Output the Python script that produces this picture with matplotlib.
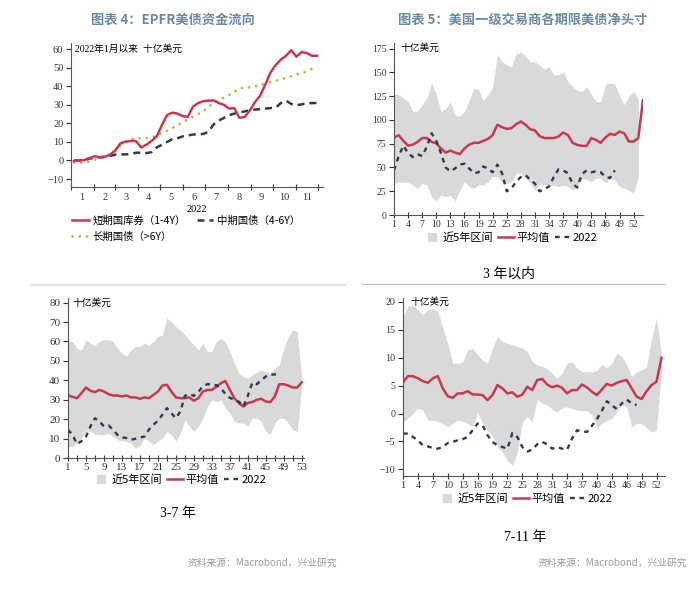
import matplotlib
matplotlib.use('Agg')
import matplotlib.pyplot as plt
import matplotlib.dates as mdates
from matplotlib.lines import Line2D
from matplotlib.ticker import FuncFormatter, NullFormatter
import numpy as np
import pandas as pd

CJK = ['Noto Sans CJK SC', 'DejaVu Sans']
plt.rcParams['font.family'] = ['Liberation Serif', 'Noto Sans CJK SC']

RED = '#C63A51'
NAVY = '#2E3A4E'
GOLD = '#CDB24E'
BAND = '#D9D9D9'
TITLE = '#6A89A2'

# ---- 图表4: EPFR weekly cumulative flows since Jan 2022 (bn USD)
epfr_start = '2022-01-05'
epfr_short = [-0.3, 0, 0.2, 1.3, 2.3, 1.7, 2.0, 3.2, 5.5, 9.3, 10.2, 10.5, 10.5, 7.0, 8.5, 10.5,
              13, 19, 24.5, 25.8, 25.3, 24, 23.5, 29, 31, 32, 32.3, 32.4, 31, 30, 28, 28.3,
              23, 23.5, 27, 31.5, 35, 41, 47.5, 51.5, 54.5, 56.5, 59.5, 56, 58.5, 58, 56.5, 56.5]
epfr_mid = [0, 0, 0.5, 1, 1.5, 1.8, 2, 2.5, 3.2, 3.3, 3.3, 3.5, 4.2, 4.2, 4, 4.5,
            7, 8.5, 10, 11.5, 12, 13, 13.5, 14, 14.2, 14.3, 15.5, 19.5, 21.5, 23, 24.5, 25.3,
            25.8, 26.5, 27.2, 27.5, 27.7, 28, 28.3, 28.5, 31, 32.3, 30.5, 29.8, 30.3, 30.8, 31, 31]
epfr_long = [-1, -1.2, -1.3, -0.5, 0.5, 1, 2, 3.5, 5, 8, 10, 11.5, 12, 12, 12, 12.5,
             13.5, 15, 16, 17.5, 19, 20.5, 22, 23.5, 25, 26.5, 29, 31, 32.5, 34, 35.5, 37,
             39, 39.3, 39.5, 40, 40.8, 41.5, 42.3, 43, 43.8, 44.5, 45.5, 46.5, 47, 48, 49.5, 50.5]

# ---- 图表5: primary dealer net positions by week (bn USD)
d3_hi = [128, 126.5, 123, 119.5, 109, 109.6, 116, 123, 139, 126.5, 109, 112, 119, 105, 104, 109,
         121, 133.5, 132, 120.5, 126.5, 135, 168.7, 161.6, 158, 156, 170, 171.5, 167, 161.6, 161,
         158, 153, 156, 147.6, 147.6, 151, 140.5, 135, 131, 130, 135, 126.5, 119.5, 119.5, 137,
         139, 138, 125, 116, 125, 130, 122]
d3_lo = [33.4, 35, 34.4, 34.4, 31.6, 28, 33.4, 31.6, 19.3, 14.8, 21, 19.3, 20.4, 15, 26, 35,
         30, 28, 31.6, 31.6, 35, 40.4, 40.4, 35, 33.4, 35, 44, 44, 38.7, 33.4, 26, 31.6, 31.6,
         30, 31.6, 30, 31.6, 30, 26, 30, 38.7, 37, 35, 38.7, 38.7, 33.4, 38.7, 37, 30, 28, 26, 23, 40]
d3_mean = [81.5, 84, 78, 73, 74, 77, 81, 81, 77, 75.5, 70, 65.7, 67.8, 65.7, 64, 70, 74, 76, 76,
           78, 80, 84, 95, 92.4, 90.6, 91.4, 95.6, 98.4, 95, 90.3, 89, 83, 81, 81, 81, 82.6, 86.8,
           84.3, 76, 73.8, 72.7, 72.7, 81, 79, 76, 81.5, 85.4, 84.3, 87.8, 86, 77.3, 77.3, 81, 121]
d3_2022 = [47, 62, 73, 65, 61, 64, 62, 72, 86, 78, 65, 50, 46, 49, 53, 54, 49, 44, 45, 51, 49, 45,
           53, 44, 25, 28, 35, 40, 42, 37, 33, 25, 27, 30, 40, 48, 47, 44, 33, 29, 43, 47, 45, 46,
           45, 40, 39, 47]

d37_hi = [60.8, 60, 56.5, 55.7, 61, 59, 58, 60, 61, 61, 60.3, 56.5, 54, 52.6, 55.7, 57.4, 57.4,
          59, 58, 60, 62.5, 63.4, 72, 70, 67.6, 66, 63.4, 60.8, 58.2, 55.7, 59, 54.8, 54.8, 60,
          61.6, 60, 54.8, 48.8, 43.7, 42, 41, 43, 44, 45.4, 44.5, 43.7, 46.2, 48, 56.5, 62.5, 66, 65, 41]
d37_lo = [6, 6, 7.7, 10.3, 14, 13.7, 12.3, 12, 12, 12.8, 11, 9.4, 8.9, 8.6, 7.7, 5.1, 6, 10.3,
          8.6, 6.8, 8.6, 10.3, 13.7, 12, 8.6, 12.8, 19.7, 16.3, 13.7, 16.3, 20.5, 26.5, 30, 29, 30,
          25.7, 23, 18.8, 18, 18, 16.3, 20.5, 20.5, 18.8, 13.7, 12, 18, 20.5, 20.5, 18, 14.5, 13.7, 37]
d37_mean = [32.2, 31.5, 30.8, 33.4, 36.3, 34.6, 33.9, 35.1, 34.2, 32.9, 32.2, 32.2, 31.7, 32.2,
            31.2, 31.2, 30.5, 31.2, 30.8, 32.5, 34.2, 37.3, 37.7, 34.2, 31.2, 30.8, 30.8, 31.2,
            29.5, 30.8, 34.2, 35.1, 35, 36.8, 38.5, 39.7, 35.1, 30.8, 28.3, 26.5, 28.3, 28.8, 30,
            30.5, 29.1, 28.8, 31.7, 38, 38, 37.3, 36.3, 36.3, 39]
d37_2022 = [14.6, 12, 7.2, 8.6, 11, 16.3, 20.5, 18.8, 16.3, 16.8, 14.6, 12, 10.6, 10.3, 9.4, 9.9,
            10.6, 11, 14.6, 17.1, 19.2, 22.3, 25.7, 23, 20.5, 24, 32, 33, 32, 34, 37, 38, 38, 37.5,
            36, 33, 31, 30, 29, 26.5, 32, 38.8, 38, 40, 42, 43, 43, 43.5]

d711_hi = [17.4, 19.2, 19.4, 18.6, 17.7, 18.6, 18.8, 18.3, 15.3, 12.6, 9, 9, 9.3, 11.4, 11.7,
           10.5, 9.6, 9, 11.7, 13.8, 12.9, 12.6, 12.3, 12, 11.7, 11.1, 9.3, 8.7, 8.5, 8, 7.2, 6.3,
           7.2, 9, 9.3, 8.1, 7.5, 7.5, 7.5, 7.8, 8.8, 8.2, 9, 10.8, 10.2, 8.7, 6.6, 7.5, 7.8, 8.4,
           13.5, 17.1, 10.5]
d711_lo = [-1.5, -0.9, 0, 0.9, 0.6, -1.2, -1.2, -1.4, -1.8, -2.4, -1.8, -1.2, -1.4, -1.8, -2.4,
           0.3, -1.8, -3, -3.9, -6, -6.9, -8.4, -9.3, -7, -1.5, -0.5, -1.5, 2.5, 1.8, 1.5, 0.8,
           0.3, 1, 1.2, 0.9, 0.6, 0.5, 0.5, -0.2, -2.6, -1.8, -1.2, -0.9, 0.3, 1.5, 1.2, -2.4,
           -1.8, -1.8, -2.5, -3.3, -3, 8]
d711_mean = [5.6, 6.7, 6.7, 6.3, 5.8, 5.5, 6.3, 6.7, 4.5, 3.1, 2.8, 3.6, 3.6, 4, 3.4, 3.4, 3.3,
             2.4, 3.3, 5.1, 4.5, 3.6, 3.8, 3, 3.4, 4.8, 4.2, 6, 6.2, 5.2, 4.7, 5, 4.6, 3.6, 4.2,
             4.2, 5.2, 4.7, 3.9, 3.3, 4.3, 5.3, 5, 5.5, 5.8, 6, 4.5, 3, 2.6, 4, 5.1, 5.7, 10]
d711_2022 = [-3.6, -3.6, -4.2, -4.8, -5.7, -5.9, -6.2, -6.3, -6, -5.3, -5.1, -4.8, -4.6, -4.2,
             -3, -1.8, -2.1, -3.9, -5.1, -5.7, -6, -6.3, -3.5, -4.2, -6.0, -6.8, -6.5, -5.5, -5.1,
             -5.5, -6.3, -6.0, -6.3, -6.5, -4.5, -3.0, -3.2, -3.3, -2.2, -1.0, 0.5, 2.2, 1.5, 0.8,
             1.8, 2.5, 1.8, 1.5]

W, H = 700, 600
fig = plt.figure(figsize=(7, 6), dpi=100)


def px_axes(l, t, r, b):
    return fig.add_axes([l / W, 1 - b / H, (r - l) / W, (b - t) / H])


def ftext(x, y, s, **kw):
    return fig.text(x / W, 1 - y / H, s, **kw)


def style(ax, size):
    for s in ['top', 'right']:
        ax.spines[s].set_visible(False)
    for s in ['left', 'bottom']:
        ax.spines[s].set_color('#555555')
        ax.spines[s].set_linewidth(0.8)
    ax.tick_params(axis='y', labelsize=size, colors='#333333', length=3.5, width=0.8, pad=2)
    ax.tick_params(axis='x', which='both', labelsize=size, colors='#333333', direction='inout',
                   length=5, width=0.8, pad=1)


# ---------------- chart 1 ----------------
ax1 = px_axes(71, 43, 323, 187)
dates = pd.date_range(epfr_start, periods=len(epfr_short), freq='7D')
ax1.plot(dates, epfr_long, color=GOLD, lw=2, linestyle=(0, (0.1, 2.5)), dash_capstyle='round')
ax1.plot(dates, epfr_mid, color=NAVY, lw=1.8, linestyle=(0, (2.8, 2)))
ax1.plot(dates, epfr_short, color=RED, lw=1.8)
ax1.set_xlim(pd.Timestamp('2022-01-01'), pd.Timestamp('2022-12-08'))
ax1.set_ylim(-14.3, 63.4)
ax1.set_yticks(range(-10, 61, 10))
ax1.xaxis.set_major_locator(mdates.MonthLocator())
ax1.xaxis.set_major_formatter(NullFormatter())
ax1.xaxis.set_minor_locator(mdates.MonthLocator(bymonth=range(1, 12), bymonthday=16))
ax1.xaxis.set_minor_formatter(FuncFormatter(lambda v, p: str(mdates.num2date(v).month)))
style(ax1, 7.5)
ax1.tick_params(axis='x', which='minor', length=0, pad=4)
ftext(197, 210, '2022', fontsize=7.5, ha='center', va='center')
ftext(75, 49, '2022年1月以来  十亿美元', fontsize=7, ha='left', va='center')
h1 = [Line2D([], [], color=RED, lw=1.8),
      Line2D([], [], color=GOLD, lw=2, linestyle=(0, (0.1, 2.5)), dash_capstyle='round'),
      Line2D([], [], color=NAVY, lw=1.8, linestyle=(0, (2.8, 2)))]
fig.legend(h1, ['短期国库券（1-4Y）', '长期国债（>6Y）', '中期国债（4-6Y）'], loc='upper left',
           bbox_to_anchor=(72 / W, 1 - 216 / H), ncol=2, frameon=False,
           prop={'family': CJK, 'size': 7.5}, handlelength=1.6, handletextpad=0.4,
           columnspacing=1.0, labelspacing=0.55, borderpad=0, borderaxespad=0)
ftext(173, 20, '图表 4：EPFR美债资金流向', fontsize=9.5, color=TITLE, ha='center', va='center',
      family=CJK, fontweight='bold')


# ---------------- dealer charts ----------------
def dealer(box, hi, lo, mean, y22, ylim, yticks, major, minor, xmax, size, leg_xy, unit_xy):
    ax = px_axes(*box)
    ax.fill_between(np.arange(1, len(hi) + 1), lo, hi, color=BAND, lw=0)
    ax.plot(np.arange(1, len(mean) + 1), mean, color=RED, lw=1.8)
    ax.plot(np.arange(1, len(y22) + 1), y22, color=NAVY, lw=1.7, linestyle=(0, (2, 2)))
    ax.set_xlim(1, xmax)
    ax.set_ylim(*ylim)
    ax.set_yticks(yticks)
    ax.set_xticks(major)
    if minor is not None:
        ax.set_xticks(minor, minor=True)
    style(ax, size)
    ftext(unit_xy[0], unit_xy[1], '十亿美元', fontsize=7, ha='left', va='center')
    hs = [Line2D([], [], marker='s', color=BAND, linestyle='none', markersize=6),
          Line2D([], [], color=RED, lw=1.8),
          Line2D([], [], color=NAVY, lw=1.7, linestyle=(0, (2, 2)))]
    fig.legend(hs, ['近5年区间', '平均值', '2022'], loc='center',
               bbox_to_anchor=(leg_xy[0] / W, 1 - leg_xy[1] / H), ncol=3, frameon=False,
               prop={'family': CJK, 'size': 8}, handlelength=1.4, handletextpad=0.2,
               columnspacing=0.5, borderpad=0, borderaxespad=0)
    return ax


dealer((394, 43, 643, 215), d3_hi, d3_lo, d3_mean, d3_2022, (0, 181), range(0, 176, 25),
       range(1, 53, 3), None, 54, 7, (511, 238), (400, 48))
dealer((68, 298, 304, 458), d37_hi, d37_lo, d37_mean, d37_2022, (0, 82.4), range(0, 81, 10),
       range(1, 54, 4), range(3, 54, 4), 53.5, 8, (180, 480), (72, 303))
dealer((403, 298, 665, 476), d711_hi, d711_lo, d711_mean, d711_2022, (-11.2, 20.7),
       range(-10, 21, 5), range(1, 53, 3), None, 53.7, 7.2, (526, 499), (410, 302))

ftext(523, 20, '图表 5：美国一级交易商各期限美债净头寸', fontsize=9.5, color=TITLE, ha='center',
      va='center', family=CJK, fontweight='bold')
ftext(509, 274, '3 年以内', fontsize=10, ha='center', va='center')
ftext(178, 513, '3-7 年', fontsize=10, ha='center', va='center')
ftext(525, 537, '7-11 年', fontsize=10, ha='center', va='center')
ftext(337, 563, '资料来源：Macrobond，兴业研究', fontsize=7, color='#999999', ha='right',
      va='center', family=CJK)
ftext(687, 563, '资料来源：Macrobond，兴业研究', fontsize=7, color='#999999', ha='right',
      va='center', family=CJK)

fig.add_artist(Line2D([32 / W, 346 / W], [1 - 285 / H] * 2, color='#E3E3E3', lw=1.5))
fig.add_artist(Line2D([362 / W, 665 / W], [1 - 284 / H] * 2, color='#BBBBBB', lw=0.8))

fig.savefig('out.png', dpi=100, facecolor='white')
